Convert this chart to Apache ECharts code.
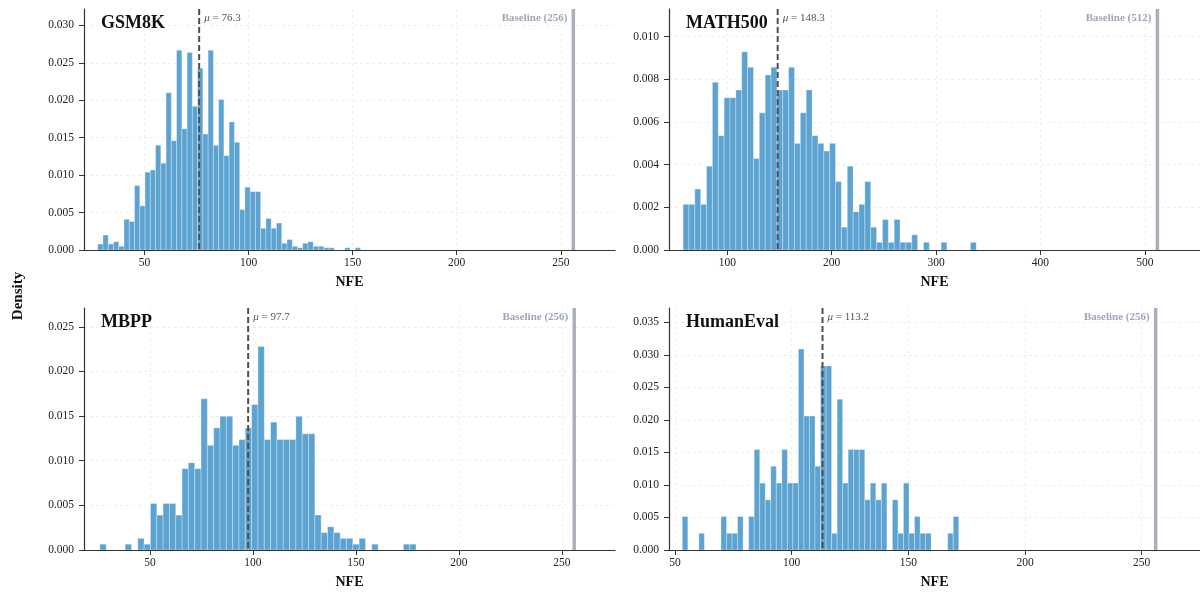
<!DOCTYPE html>
<html>
<head>
<meta charset="utf-8">
<script src="https://cdn.jsdelivr.net/npm/echarts@6/dist/echarts.min.js"></script>
<style>
  html, body { margin: 0; padding: 0; background: #fff; }
  #chart { width: 1200px; height: 592px; }
</style>
</head>
<body>
<div id="chart"></div>
<script>
const SERIF = "'Liberation Serif', 'DejaVu Serif', serif"

// panels
const panelNames = ['GSM8K', 'MATH500', 'MBPP', 'HumanEval']
const meanNfe = [76.3, 148.3, 97.7, 113.2]
const baselineNfe = [256, 512, 256, 256]

// 50 bins per panel: first edge + width (NFE)
const binStart = [27.6, 57.7, 25.7, 53.1]
const binWidth = [2.524, 5.616, 3.07, 2.37]

// densities
const gsm8kDensity = [
  0.0008, 0.0020, 0.0008, 0.0011, 0.0005, 0.0041, 0.0038, 0.0086, 0.0059, 0.0104,
  0.0107, 0.0140, 0.0116, 0.0210, 0.0146, 0.0267, 0.0162, 0.0264, 0.0192, 0.0243,
  0.0155, 0.0267, 0.0140, 0.0201, 0.0126, 0.0171, 0.0144, 0.0054, 0.0084, 0.0078,
  0.0078, 0.0029, 0.0042, 0.0029, 0.0036, 0.0009, 0.0014, 0.0005, 0.0003, 0.0009,
  0.0011, 0.0005, 0.0005, 0.0003, 0.0003, 0, 0, 0.0003, 0, 0.0003
]
const math500Density = [
  0.00214, 0.00214, 0.00286, 0.00214, 0.00393, 0.00786, 0.00536, 0.00714, 0.00714, 0.0075,
  0.00929, 0.00857, 0.00429, 0.00643, 0.00821, 0.00857, 0.0075, 0.0075, 0.00857, 0.005,
  0.00643, 0.0075, 0.00536, 0.005, 0.00464, 0.005, 0.00321, 0.00107, 0.00393, 0.00179,
  0.00214, 0.00321, 0.00107, 0.00036, 0.00143, 0.00036, 0.00143, 0.00036, 0.00036, 0.00071,
  0, 0.00036, 0, 0, 0.00036, 0, 0, 0, 0, 0.00036
]
const mbppDensity = [
  0.00065, 0, 0, 0, 0.00065, 0, 0.0013, 0.00065, 0.00521, 0.00391,
  0.00521, 0.00521, 0.00391, 0.00911, 0.00977, 0.00911, 0.01693, 0.01172, 0.01367, 0.01497,
  0.01497, 0.01172, 0.01237, 0.01367, 0.01628, 0.02279, 0.01237, 0.01432, 0.01237, 0.01237,
  0.01237, 0.01497, 0.01302, 0.01302, 0.00391, 0.00195, 0.0026, 0.00195, 0.0013, 0.0013,
  0.00065, 0.0013, 0, 0.00065, 0, 0, 0, 0, 0.00065, 0.00065
]
const humanevalDensity = [
  0.00515, 0, 0, 0.00257, 0, 0, 0, 0.00515, 0.00257, 0.00257,
  0.00515, 0, 0.00515, 0.01544, 0.01029, 0.00772, 0.01287, 0.01029, 0.01544, 0.01029,
  0.01029, 0.03088, 0.02058, 0.02058, 0.01287, 0.0283, 0.0283, 0.00257, 0.02316, 0.01029,
  0.01544, 0.01544, 0.01544, 0.00772, 0.01029, 0.00772, 0.01029, 0, 0.00772, 0.00257,
  0.01029, 0.00257, 0.00515, 0.00257, 0.00257, 0, 0, 0, 0.00257, 0.00515
]
const densities = [gsm8kDensity, math500Density, mbppDensity, humanevalDensity]

// axes
const xMin = [21, 44.2, 18, 47.4]
const xMax = [276, 552.8, 275.8, 275]
const yMax = [0.0322, 0.0113, 0.0271, 0.0372]
const xTicks = [
  [50, 100, 150, 200, 250],
  [100, 200, 300, 400, 500],
  [50, 100, 150, 200, 250],
  [50, 100, 150, 200, 250]
]
const yTicks = [
  [0, 0.005, 0.01, 0.015, 0.02, 0.025, 0.03],
  [0, 0.002, 0.004, 0.006, 0.008, 0.01],
  [0, 0.005, 0.01, 0.015, 0.02, 0.025],
  [0, 0.005, 0.01, 0.015, 0.02, 0.025, 0.03, 0.035]
]

// grid boxes [left, top, width, height]
const boxes = [[84, 9, 531, 241], [669, 9, 531, 241], [84, 308, 531, 242], [669, 308, 531, 242]]

const gridLine = { show: true, lineStyle: { color: '#e9e9e9', width: 0.7, type: [3, 3] } }

function renderBar (params, api) {
  const h = api.value(2)
  if (!h) return null
  const p0 = api.coord([api.value(0), h])
  const p1 = api.coord([api.value(1), 0])
  return {
    type: 'rect',
    shape: { x: p0[0], y: p0[1], width: p1[0] - p0[0], height: p1[1] - p0[1] },
    style: { fill: '#5da3d1', stroke: 'rgba(255,255,255,0.5)', lineWidth: 0.6 }
  }
}

function renderMean (params, api) {
  const cs = params.coordSys
  const v = api.value(0)
  const x = api.coord([v, 0])[0]
  return {
    type: 'group',
    children: [
      { type: 'line', shape: { x1: x, y1: cs.y, x2: x, y2: cs.y + cs.height },
        style: { stroke: '#4f4f4f', lineWidth: 2, lineDash: [6, 3] } },
      { type: 'text', x: x + 5, y: cs.y + 9,
        style: {
          text: '{m|μ}{n| = ' + v.toFixed(1) + '}',
          align: 'left', verticalAlign: 'middle',
          rich: {
            m: { fontFamily: SERIF, fontStyle: 'italic', fontSize: 11, fill: '#555' },
            n: { fontFamily: SERIF, fontSize: 11, fill: '#555' }
          }
        } }
    ]
  }
}

function renderBaseline (params, api) {
  const cs = params.coordSys
  const v = api.value(0)
  const x = api.coord([v, 0])[0]
  return {
    type: 'group',
    children: [
      { type: 'line', shape: { x1: x, y1: cs.y, x2: x, y2: cs.y + cs.height },
        style: { stroke: '#aab0bb', lineWidth: 3.5 } },
      { type: 'text', x: x - 6, y: cs.y + 9,
        style: {
          text: 'Baseline (' + v + ')', align: 'right', verticalAlign: 'middle',
          fontFamily: SERIF, fontWeight: 'bold', fontSize: 11, fill: '#9ea6b6'
        } }
    ]
  }
}

const grid = [], xAxis = [], yAxis = [], series = [], title = []

panelNames.forEach((name, i) => {
  const [l, t, w, h] = boxes[i]
  grid.push({ left: l, top: t, width: w, height: h })
  title.push({
    text: name, left: l + 17, top: t + 5.5, padding: 0,
    textStyle: { fontFamily: SERIF, fontWeight: 'bold', fontSize: 18, color: '#111' }
  })
  xAxis.push({
    type: 'value', gridIndex: i, min: xMin[i], max: xMax[i],
    name: 'NFE', nameLocation: 'middle', nameGap: 25,
    nameTextStyle: { fontFamily: SERIF, fontWeight: 'bold', fontSize: 14, color: '#111' },
    axisLine: { show: true, onZero: false, lineStyle: { color: '#333', width: 1.2 } },
    axisTick: { show: true, length: 5, customValues: xTicks[i], lineStyle: { color: '#333' } },
    axisLabel: { customValues: xTicks[i], margin: 7, fontFamily: SERIF, fontSize: 11.5, color: '#222' },
    splitLine: gridLine
  })
  yAxis.push({
    type: 'value', gridIndex: i, min: 0, max: yMax[i],
    axisLine: { show: true, lineStyle: { color: '#333', width: 1.2 } },
    axisTick: { show: true, length: 5, customValues: yTicks[i], lineStyle: { color: '#333' } },
    axisLabel: {
      customValues: yTicks[i], margin: 10, fontFamily: SERIF, fontSize: 11.5, color: '#222',
      formatter: v => v.toFixed(3)
    },
    splitLine: gridLine
  })
  const bars = densities[i].map((d, k) => [binStart[i] + k * binWidth[i], binStart[i] + (k + 1) * binWidth[i], d])
  series.push({
    type: 'custom', xAxisIndex: i, yAxisIndex: i, data: bars,
    encode: { x: [0, 1], y: 2 }, renderItem: renderBar, clip: true, silent: true
  })
  series.push({
    type: 'custom', xAxisIndex: i, yAxisIndex: i, data: [[meanNfe[i]]],
    encode: { x: 0 }, renderItem: renderMean, z: 5, silent: true
  })
  series.push({
    type: 'custom', xAxisIndex: i, yAxisIndex: i, data: [[baselineNfe[i]]],
    encode: { x: 0 }, renderItem: renderBaseline, z: 4, silent: true
  })
})

const chart = echarts.init(document.getElementById('chart'))
chart.setOption({
  animation: false,
  backgroundColor: '#fff',
  title,
  grid,
  xAxis,
  yAxis,
  series,
  graphic: [{
    type: 'text', x: 18, y: 296, rotation: Math.PI / 2,
    style: { text: 'Density', align: 'center', verticalAlign: 'middle',
      fontFamily: SERIF, fontWeight: 'bold', fontSize: 15, fill: '#111' }
  }]
})
</script>
</body>
</html>
